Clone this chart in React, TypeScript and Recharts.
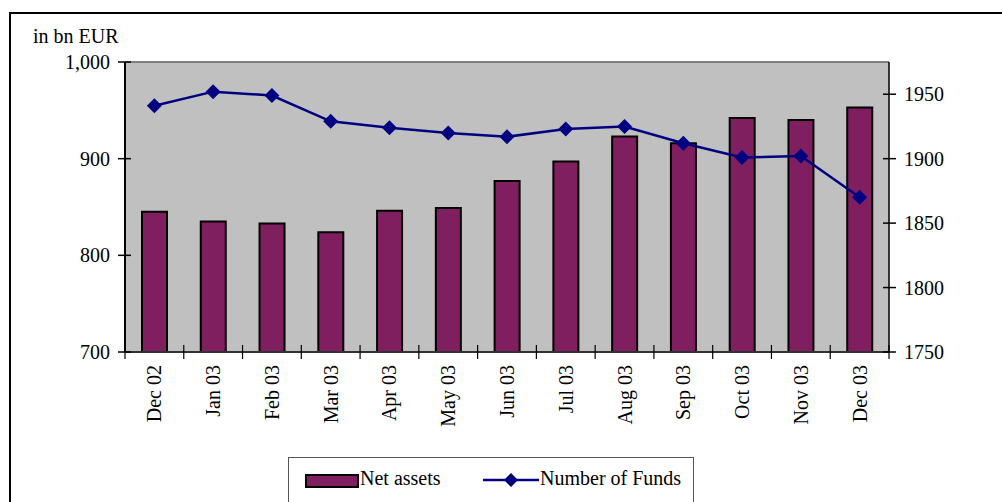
import { Bar, CartesianGrid, ComposedChart, Line, ReferenceLine, XAxis, YAxis } from "recharts";

const months = ["Dec 02", "Jan 03", "Feb 03", "Mar 03", "Apr 03", "May 03", "Jun 03", "Jul 03", "Aug 03", "Sep 03", "Oct 03", "Nov 03", "Dec 03"];
const netAssets = [845, 835, 833, 824, 846, 849, 877, 897, 923, 916, 942, 940, 953];
const numberOfFunds = [1941, 1952, 1949, 1929, 1924, 1920, 1917, 1923, 1925, 1912, 1901, 1902, 1870];
const leftTicks = [700, 800, 900, 1000];
const rightTicks = [1750, 1800, 1850, 1900, 1950];

const data = months.map((m, i) => ({ month: m, net: netAssets[i], funds: numberOfFunds[i] }));

const FONT = "'Liberation Serif', 'DejaVu Serif', serif";
const FS = 20;
const W = 1002;
const H = 502;
const PLOT_LEFT = 125;
const PLOT_RIGHT = 889;
const BAND = (PLOT_RIGHT - PLOT_LEFT) / months.length;

const fmt = (v: number) => v.toLocaleString("en-US");

function LeftTick(props: any) {
  const { x, y, payload } = props;
  return (
    <g>
      <line x1={x - 7} x2={x + 6} y1={y} y2={y} stroke="#000" strokeWidth={1.5} />
      <text x={x - 15} y={y} textAnchor="end" dominantBaseline="central" fontFamily={FONT} fontSize={FS} fill="#000">
        {fmt(payload.value)}
      </text>
    </g>
  );
}

function RightTick(props: any) {
  const { x, y, payload } = props;
  return (
    <g>
      <line x1={x - 6} x2={x + 7} y1={y} y2={y} stroke="#000" strokeWidth={1.5} />
      <text x={x + 15} y={y} textAnchor="start" dominantBaseline="central" fontFamily={FONT} fontSize={FS} fill="#000">
        {payload.value}
      </text>
    </g>
  );
}

function MonthTick(props: any) {
  const { x, y, payload, index } = props;
  const left = x - BAND / 2;
  return (
    <g>
      <line x1={left} x2={left} y1={y - 7} y2={y + 7} stroke="#000" strokeWidth={1.2} />
      {index === months.length - 1 && (
        <line x1={x + BAND / 2} x2={x + BAND / 2} y1={y - 7} y2={y + 7} stroke="#000" strokeWidth={1.2} />
      )}
      <text
        x={x}
        y={y + 13}
        transform={`rotate(-90 ${x} ${y + 13})`}
        textAnchor="end"
        dominantBaseline="central"
        fontFamily={FONT}
        fontSize={FS}
        fill="#000"
      >
        {payload.value}
      </text>
    </g>
  );
}

function Diamond(props: any) {
  const { cx, cy } = props;
  if (cx == null || cy == null) return null;
  const r = 7.5;
  return <polygon points={`${cx},${cy - r} ${cx + r},${cy} ${cx},${cy + r} ${cx - r},${cy}`} fill="#000080" />;
}

export default function App() {
  return (
    <div style={{ position: "fixed", left: 0, top: 0, width: W, height: H, background: "#fff", overflow: "hidden" }}>
      <div style={{ position: "absolute", left: 9, top: 12, width: W, height: H, borderLeft: "2px solid #000", borderTop: "2px solid #000" }} />
      <div style={{ position: "absolute", left: 33, top: 25, fontFamily: FONT, fontSize: FS, color: "#000" }}>in bn EUR</div>
      <div style={{ position: "absolute", left: 0, top: 0 }}>
        <ComposedChart width={W} height={H} data={data} margin={{ top: 62, left: 65, right: 43, bottom: 70 }}>
          <CartesianGrid fill="#C0C0C0" horizontal={false} vertical={false} />
          <XAxis
            dataKey="month"
            xAxisId="x"
            height={80}
            tickSize={0}
            tickMargin={0}
            tickLine={false}
            interval={0}
            axisLine={{ stroke: "#333", strokeWidth: 2 }}
            tick={<MonthTick />}
          />
          <YAxis
            yAxisId="left"
            orientation="left"
            width={60}
            domain={[700, 1000]}
            ticks={leftTicks}
            tickSize={0}
            tickMargin={0}
            tickLine={false}
            axisLine={{ stroke: "#000", strokeWidth: 2 }}
            tick={<LeftTick />}
          />
          <YAxis
            yAxisId="right"
            orientation="right"
            width={70}
            domain={[1750, 1975]}
            ticks={rightTicks}
            tickSize={0}
            tickMargin={0}
            tickLine={false}
            axisLine={{ stroke: "#000", strokeWidth: 1.5 }}
            tick={<RightTick />}
            allowDataOverflow
          />
          <ReferenceLine xAxisId="x" yAxisId="left" y={1000} stroke="#808080" strokeWidth={2} />
          <Bar xAxisId="x" yAxisId="left" dataKey="net" barSize={25} fill="#801F5F" stroke="#000" strokeWidth={2} isAnimationActive={false} />
          <Line
            xAxisId="x"
            yAxisId="right"
            dataKey="funds"
            stroke="#000080"
            strokeWidth={2.5}
            dot={<Diamond />}
            activeDot={false}
            isAnimationActive={false}
          />
        </ComposedChart>
      </div>
      <div
        style={{
          position: "absolute",
          left: 288,
          top: 457,
          width: 404,
          height: 60,
          borderLeft: "1.5px solid #555",
          borderTop: "1.5px solid #555",
          borderRight: "1.5px solid #555",
          fontFamily: FONT,
          fontSize: FS,
          color: "#000",
        }}
      >
        <div style={{ position: "absolute", left: 16, top: 16, width: 50, height: 10, background: "#801F5F", border: "2px solid #000" }} />
        <div style={{ position: "absolute", left: 71, top: 9 }}>Net assets</div>
        <svg style={{ position: "absolute", left: 194, top: 12 }} width={56} height={20}>
          <line x1={0} x2={56} y1={10} y2={10} stroke="#000080" strokeWidth={2.5} />
          <polygon points="28,3 35,10 28,17 21,10" fill="#000080" />
        </svg>
        <div style={{ position: "absolute", left: 251, top: 9 }}>Number of Funds</div>
      </div>
    </div>
  );
}
